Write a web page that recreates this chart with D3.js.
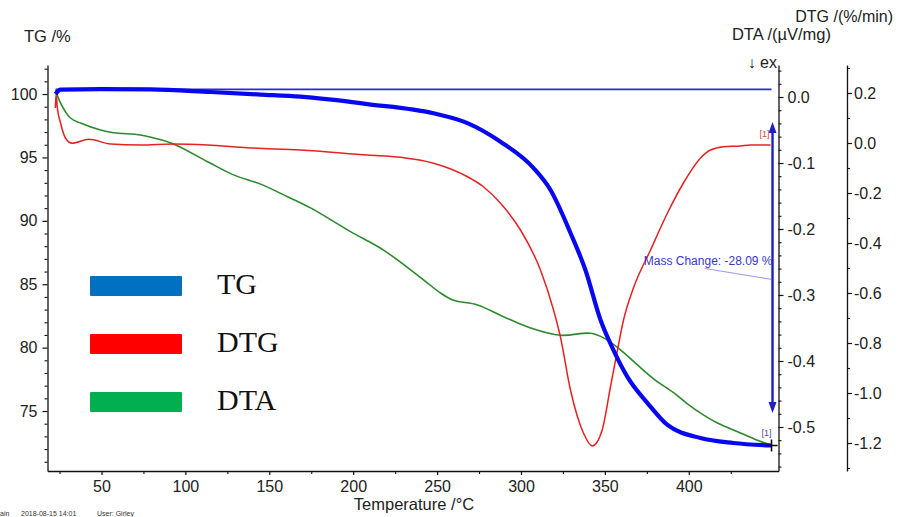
<!DOCTYPE html>
<html>
<head>
<meta charset="utf-8">
<script src="https://cdn.jsdelivr.net/npm/d3@7"></script>
<style>
  body { margin: 0; background: #fff; }
  svg { font-family: Arial, "Liberation Sans", sans-serif; }
</style>
</head>
<body>
<div id="chart"></div>
<script>
// ---- data ----
var tgTemp = [22.6, 25.6, 49.4, 79.2, 115, 144.8, 168.6, 208.5, 247.9, 268.1, 287.8, 307.5, 317.6, 329.5, 338.4, 347.4, 355.1, 363.5, 375.4, 387.3, 407, 426.6, 449.3];
var tgMass = [100.0, 100.35, 100.39, 100.37, 100.16, 99.96, 99.79, 99.21, 98.48, 97.71, 96.24, 94.16, 92.43, 89.04, 86.12, 82.18, 79.81, 77.68, 75.63, 73.9, 72.87, 72.48, 72.28];

var dtgTemp = [22.5, 23.0, 23.6, 25.6, 28.5, 32.5, 42.4, 55.4, 73.2, 92.9, 113.2, 137, 168.6, 208.5, 228.2, 247.9, 268.1, 277.6, 287.8, 299.7, 311.6, 319.4, 323.5, 329.5, 337.2, 342.4, 348.4, 353.3, 357.5, 361.1, 367, 377.2, 387.3, 396.8, 407, 412.9, 420.7, 430.8, 436.8, 448.7];
var dtgRate = [0.14, 0.20, 0.145, 0.08, 0.02, -0.001, 0.015, -0.004, -0.008, -0.004, -0.008, -0.019, -0.028, -0.048, -0.057, -0.081, -0.135, -0.175, -0.241, -0.348, -0.508, -0.668, -0.776, -0.988, -1.16, -1.212, -1.148, -0.976, -0.828, -0.708, -0.58, -0.428, -0.28, -0.16, -0.06, -0.028, -0.015, -0.012, -0.008, -0.008];

var dtaTemp = [22.6, 25.6, 31.5, 37.5, 49.4, 57.2, 73.2, 81, 92.9, 113.2, 128.7, 144.8, 160.8, 174.6, 198.4, 218.1, 241.9, 252, 259.8, 274.1, 289.6, 305.7, 323.5, 341.4, 349.2, 359.3, 369.4, 379, 390.9, 399.2, 407, 417.1, 430.8, 440.9, 448.7];
var dtaSignal = [0.0106, -0.0091, -0.0318, -0.0394, -0.05, -0.0541, -0.0576, -0.0621, -0.0712, -0.098, -0.118, -0.132, -0.151, -0.168, -0.204, -0.232, -0.277, -0.297, -0.308, -0.315, -0.333, -0.35, -0.361, -0.358, -0.365, -0.383, -0.406, -0.427, -0.448, -0.465, -0.479, -0.494, -0.509, -0.52, -0.527];

var xTicks = [50, 100, 150, 200, 250, 300, 350, 400];
var tgTicks = [75, 80, 85, 90, 95, 100];
var dtaTicks = [0, -0.1, -0.2, -0.3, -0.4, -0.5];
var dtgTicks = [0.2, 0, -0.2, -0.4, -0.6, -0.8, -1.0, -1.2];

var legendNames = ["TG", "DTG", "DTA"];
var legendColors = ["#0070C0", "#FF0000", "#00B050"];

// mass change annotation (TG units)
var tgRef = 100.37;
var massChangeLabel = "Mass Change: -28.09 %";
var arrowTop = 97.8, arrowBottom = 74.85;

// ---- layout ----
var svgWidth = 898;
var svgHeight = 517;
var plotLeft = 47.5, plotRight = 778.5, plotTop = 65, plotBottom = 471;
var dtgX = 847;

var svg = d3.select("#chart").append("svg")
    .attr("width", svgWidth).attr("height", svgHeight);

var x = d3.scaleLinear().domain([17.82, 453.46]).range([plotLeft, plotRight]);
var yTG = d3.scaleLinear().domain([70.27, 102.29]).range([plotBottom, plotTop]);
var yDTA = d3.scaleLinear().domain([-0.5667, 0.0485]).range([plotBottom, plotTop]);
var yDTG = d3.scaleLinear().domain([-1.312, 0.312]).range([plotBottom, plotTop]);

var fmt1 = d => d.toFixed(1);

function styleAxis(g, size) {
    g.select(".domain").attr("stroke", "#111").attr("stroke-width", 1.3);
    g.selectAll(".tick line").attr("stroke", "#111").attr("stroke-width", 1.2);
    g.selectAll("text").attr("font-size", size).attr("fill", "#222")
        .attr("font-family", "Arial, 'Liberation Sans', sans-serif");
}

function minor(g) {
    g.select(".domain").remove();
    g.selectAll("line").attr("stroke", "#111").attr("stroke-width", 1.1);
}

// x axis
var gx = svg.append("g").attr("transform", `translate(0, ${plotBottom})`)
    .call(d3.axisBottom(x).tickValues(xTicks).tickSize(4).tickSizeOuter(0).tickPadding(6).tickFormat(d3.format("d")));
styleAxis(gx, "16px");
svg.append("g").attr("transform", `translate(0, ${plotBottom})`)
    .call(d3.axisBottom(x).tickValues([25, 75, 125, 175, 225, 275, 325, 375, 425]).tickSize(3).tickFormat(""))
    .call(minor);

// left TG axis
var gl = svg.append("g").attr("transform", `translate(${plotLeft}, 0)`)
    .call(d3.axisLeft(yTG).tickValues(tgTicks).tickSize(5).tickSizeOuter(0).tickPadding(5).tickFormat(d3.format("d")));
styleAxis(gl, "16px");
svg.append("g").attr("transform", `translate(${plotLeft}, 0)`)
    .call(d3.axisLeft(yTG).tickValues(d3.range(71, 103).filter(v => v % 5 !== 0)).tickSize(3).tickFormat(""))
    .call(minor);

// DTA axis (middle)
var gm = svg.append("g").attr("transform", `translate(${plotRight}, 0)`)
    .call(d3.axisRight(yDTA).tickValues(dtaTicks).tickSize(5).tickSizeOuter(0).tickPadding(4).tickFormat(fmt1));
styleAxis(gm, "16px");
svg.append("g").attr("transform", `translate(${plotRight}, 0)`)
    .call(d3.axisRight(yDTA).tickValues(d3.range(-28, 3).filter(v => v % 5 !== 0).map(v => v * 0.02)).tickSize(3).tickFormat(""))
    .call(minor);

// DTG axis (right)
var gr = svg.append("g").attr("transform", `translate(${dtgX}, 0)`)
    .call(d3.axisRight(yDTG).tickValues(dtgTicks).tickSize(5).tickSizeOuter(0).tickPadding(2).tickFormat(fmt1));
styleAxis(gr, "16px");
svg.append("g").attr("transform", `translate(${dtgX}, 0)`)
    .call(d3.axisRight(yDTG).tickValues([0.3, 0.1, -0.1, -0.3, -0.5, -0.7, -0.9, -1.1, -1.3]).tickSize(3).tickFormat(""))
    .call(minor);

// axis titles
svg.append("text").attr("x", 24).attr("y", 42).attr("font-size", "16.5px").attr("fill", "#222").text("TG /%");
svg.append("text").attr("x", 893).attr("y", 22).attr("text-anchor", "end").attr("font-size", "16px").attr("fill", "#222").text("DTG /(%/min)");
svg.append("text").attr("x", 831).attr("y", 40).attr("text-anchor", "end").attr("font-size", "16.5px").attr("fill", "#222").text("DTA /(µV/mg)");
svg.append("text").attr("x", 777).attr("y", 68).attr("text-anchor", "end").attr("font-size", "16px").attr("fill", "#222").text("↓ ex");
svg.append("text").attr("x", 414).attr("y", 510).attr("text-anchor", "middle").attr("font-size", "16.5px").attr("fill", "#222").text("Temperature /°C");

// footer
var foot = svg.append("g").attr("font-size", "7px").attr("fill", "#333");
foot.append("text").attr("x", 0).attr("y", 516).text("ain");
foot.append("text").attr("x", 21).attr("y", 516).text("2018-08-15 14:01");
foot.append("text").attr("x", 97).attr("y", 516).text("User: Girley");

// curves
var line = (ys, xs, sy, curve) => d3.line().curve(curve)
    .x((d, i) => x(xs[i])).y(d => sy(d))(ys);

// reference line at the initial mass
svg.append("line")
    .attr("x1", x(tgTemp[0])).attr("x2", x(tgTemp[tgTemp.length - 1]))
    .attr("y1", yTG(tgRef)).attr("y2", yTG(tgRef))
    .attr("stroke", "#2a2ad8").attr("stroke-width", 1.6);

svg.append("path").attr("d", line(dtaSignal, dtaTemp, yDTA, d3.curveCatmullRom.alpha(0.5)))
    .attr("fill", "none").attr("stroke", "#2b8a2b").attr("stroke-width", 1.6);
svg.append("path").attr("d", line(dtgRate, dtgTemp, yDTG, d3.curveMonotoneX))
    .attr("fill", "none").attr("stroke", "#e52222").attr("stroke-width", 1.5);
svg.append("path").attr("d", line(tgMass, tgTemp, yTG, d3.curveMonotoneX))
    .attr("fill", "none").attr("stroke", "#0808f0").attr("stroke-width", 4.2);

// mass change arrow
var ax = x(tgTemp[tgTemp.length - 1]) + 1;
var y1 = yTG(arrowTop), y2 = yTG(arrowBottom);
svg.append("line").attr("x1", ax).attr("x2", ax).attr("y1", y1 + 6).attr("y2", y2 - 6)
    .attr("stroke", "#1f1fc8").attr("stroke-width", 2.4);
svg.append("path").attr("d", `M${ax},${y1}L${ax - 4},${y1 + 11}L${ax + 4},${y1 + 11}Z`).attr("fill", "#1f1fc8");
svg.append("path").attr("d", `M${ax},${y2}L${ax - 4},${y2 - 11}L${ax + 4},${y2 - 11}Z`).attr("fill", "#1f1fc8");

var labelY = yTG(86.8);
svg.append("line").attr("x1", ax - 68).attr("y1", labelY + 7).attr("x2", ax - 1).attr("y2", labelY + 18)
    .attr("stroke", "#6a6ad8").attr("stroke-width", 0.7);
svg.append("text").attr("x", ax).attr("y", labelY + 4).attr("text-anchor", "end")
    .attr("font-size", "12px").attr("fill", "#3636cc").text(massChangeLabel);

// [1] markers
svg.append("text").attr("x", ax - 3).attr("y", yDTG(dtgRate[dtgRate.length - 1]) - 8)
    .attr("text-anchor", "end").attr("font-size", "9px").attr("fill", "#d04545").text("[1]");
svg.append("text").attr("x", ax - 1).attr("y", yTG(tgMass[tgMass.length - 1]) - 10)
    .attr("text-anchor", "end").attr("font-size", "9px").attr("fill", "#4a4ac4").text("[1]");
var cx = x(tgTemp[tgTemp.length - 1]), cy = yTG(tgMass[tgMass.length - 1]);
svg.append("path").attr("d", `M${cx - 6},${cy}H${cx + 6}M${cx},${cy - 6}V${cy + 6}`)
    .attr("stroke", "#111").attr("stroke-width", 1.6);

// legend
var legend = svg.append("g");
legendNames.forEach(function(name, i) {
    var ly = 276 + i * 58;
    legend.append("rect").attr("x", 90).attr("y", ly).attr("width", 92).attr("height", 20)
        .attr("rx", 1).attr("fill", legendColors[i]);
    legend.append("text").attr("x", 217).attr("y", ly + 18)
        .attr("font-family", "'Liberation Serif', 'Times New Roman', serif")
        .attr("font-size", "30px").attr("fill", "#111").text(name);
});
</script>
</body>
</html>
